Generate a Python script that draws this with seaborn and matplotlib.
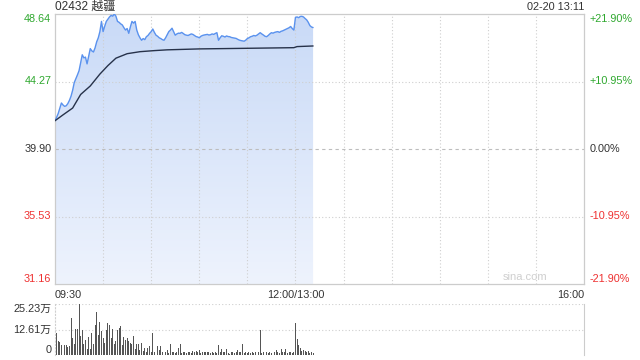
import numpy as np
import pandas as pd
import matplotlib
matplotlib.use("Agg")
import matplotlib.pyplot as plt
import matplotlib.transforms as mtransforms
from matplotlib.colors import LinearSegmentedColormap
import seaborn as sns

# ---------------- data ----------------
title_text = "02432 越疆"
stamp_text = "02-20 13:11"
prev_close = 39.90
price_ticks = [48.64, 44.27, 39.90, 35.53, 31.16]
pct_labels = ["+21.90%", "+10.95%", "0.00%", "-10.95%", "-21.90%"]
vol_ticks = [25.23, 12.61, 0]
vol_labels = ["25.23万", "12.61万", "0"]
x_tick_labels = ["09:30", "12:00/13:00", "16:00"]

price = [
    41.73, 41.95, 42.20, 42.55, 42.88, 42.75, 42.66, 42.70, 42.84, 43.05, 43.32,
    43.70, 44.20, 44.45, 44.70, 44.97, 45.50, 46.00, 45.80, 45.85, 45.41,
    45.90, 46.40, 46.25, 46.18, 46.45, 46.84, 47.10, 47.50, 48.16, 47.50,
    47.85, 48.16, 48.30, 48.45, 48.55, 48.50, 48.64, 48.50, 48.16, 48.10,
    48.00, 47.93, 47.75, 47.60, 47.70, 47.39, 47.80, 48.16, 48.05, 48.16,
    47.60, 47.30, 47.10, 46.94, 47.05, 46.98, 47.17, 47.25, 47.39, 47.50,
    47.67, 47.45, 47.27, 47.20, 47.10, 47.05, 46.98, 46.94, 47.10, 47.30,
    47.50, 47.60, 47.72, 47.50, 47.27, 47.35, 47.40, 47.39, 47.45, 47.38,
    47.30, 47.27, 47.25, 47.30, 47.35, 47.32, 47.25, 47.18, 47.15, 47.10,
    47.20, 47.25, 47.28, 47.30, 47.32, 47.28, 47.30, 47.35, 47.32, 47.38,
    47.43, 46.94, 47.10, 47.23, 47.20, 47.15, 47.22, 47.18, 47.17, 47.12,
    47.10, 47.08, 47.06, 47.00, 46.95, 46.92, 46.90, 46.88, 46.95, 47.05,
    47.10, 47.17, 47.20, 47.25, 47.22, 47.27, 47.35, 47.43, 47.35, 47.28,
    47.20, 47.17, 47.25, 47.35, 47.43, 47.40, 47.45, 47.48, 47.50, 47.45,
    47.52, 47.55, 47.60, 47.65, 47.70, 47.75, 47.83, 47.70, 47.60, 48.42,
    48.45, 48.40, 48.48, 48.49, 48.45, 48.35, 48.26, 48.10, 47.89, 47.80, 47.76,
]

avg_minutes = [0, 5, 11, 16, 22, 28, 33, 38, 45, 53, 62, 70, 90, 120, 149, 151, 161]
avg_values = [41.73, 42.11, 42.55, 43.43, 43.98, 44.75, 45.30, 45.78, 46.07, 46.20,
              46.27, 46.32, 46.38, 46.42, 46.46, 46.53, 46.57]

volume = [
    10.0, 10.7, 7.0, 6.5, 4.8, 4.4, 5.0, 5.0, 3.8, 4.6,
    18.5, 8.6, 5.5, 12.9, 12.9, 25.23, 9.4, 12.4, 5.5, 7.2,
    2.9, 8.9, 3.1, 10.7, 5.2, 14.6, 21.3, 10.0, 16.3, 12.0,
    8.6, 6.0, 12.4, 15.8, 14.6, 8.6, 12.9, 5.2, 6.9, 12.4,
    13.4, 14.1, 4.8, 8.9, 7.2, 8.6, 6.9, 6.0, 5.2, 9.4,
    3.1, 5.5, 5.2, 2.6, 6.0, 2.1, 3.4, 1.7, 3.4, 4.3,
    1.7, 11.1, 1.7, 3.1, 4.3, 2.6, 4.3, 1.4, 3.4, 1.4,
    2.6, 0.9, 5.2, 1.4, 1.7, 0.9, 1.7, 3.4, 5.2, 0.9,
    1.4, 1.7, 0.9, 1.7, 1.4, 0.9, 2.1, 1.4, 2.1, 1.4,
    2.6, 0.9, 1.7, 1.4, 1.7, 1.4, 1.7, 0.9, 1.4, 0.9,
    1.7, 0.9, 4.8, 1.4, 3.1, 1.7, 1.4, 3.1, 0.9, 0.4,
    1.4, 1.7, 0.9, 1.4, 2.6, 1.4, 1.4, 5.2, 0.9, 1.4,
    0.9, 1.4, 0.9, 1.4, 0.9, 1.4, 0.9, 1.4, 12.4, 0.9,
    1.4, 0.9, 1.4, 0.9, 1.7, 0.9, 1.7, 1.4, 2.6, 1.7,
    0.9, 3.1, 1.4, 1.7, 3.1, 0.9, 1.4, 1.7, 0.9, 1.4,
    15.8, 7.7, 4.8, 3.4, 2.1, 2.6, 2.1, 1.4, 2.1, 0.9,
    1.4, 0.9,
]

# trading minute axis: morning 09:30-11:59, afternoon 13:00-13:11 (lunch folded)
times = list(pd.date_range("2024-02-20 09:30", "2024-02-20 11:59", freq="min")) + \
        list(pd.date_range("2024-02-20 13:00", "2024-02-20 13:11", freq="min"))
day_open = pd.Timestamp("2024-02-20 09:30")
minute = [int((t - day_open).total_seconds() // 60) - (60 if t.hour >= 13 else 0) for t in times]
session_len = 330  # 09:30-12:00 + 13:00-16:00

df = pd.DataFrame({"minute": minute, "price": price, "volume": volume})
avg_df = pd.DataFrame({"minute": avg_minutes, "avg": avg_values})

# ---------------- style ----------------
sns.set_style("white")
plt.rcParams["font.family"] = ["Liberation Sans", "Noto Sans CJK SC", "DejaVu Sans"]

GREEN = "#2fa82f"
RED = "#ee3030"
GRAY_T = "#333333"
GRID = "#cfcfcf"
FS = 7.8

fig = plt.figure(figsize=(6.4, 3.6), dpi=100)
W, H = 640.0, 360.0
ax = fig.add_axes([55 / W, 1 - 284 / H, 529 / W, 270 / H])
axv = fig.add_axes([55 / W, 1 - 355 / H, 529 / W, 51 / H])

ylo, yhi = price_ticks[-1], price_ticks[0]

# gradient area under price
poly = ax.fill_between(df["minute"], df["price"], ylo, color="none", linewidth=0)
cmap = LinearSegmentedColormap.from_list("g", ["#eef3fd", "#c9daf7"])
grad = np.linspace(0, 1, 256).reshape(-1, 1)
img = ax.imshow(grad, extent=[df["minute"].min(), df["minute"].max(), ylo, yhi],
                origin="lower", cmap=cmap, aspect="auto", zorder=1)
img.set_clip_path(poly.get_paths()[0], transform=ax.transData)

sns.lineplot(data=df, x="minute", y="price", ax=ax, color="#5a92ee", linewidth=1.0, zorder=3)
sns.lineplot(data=avg_df, x="minute", y="avg", ax=ax, color="#27324a", linewidth=1.0, zorder=3)

ax.set_xlim(0, session_len)
ax.set_ylim(ylo, yhi)
ax.set_xlabel("")
ax.set_ylabel("")
ax.set_yticks([])

# grid lines (drawn over the area fill, under the lines)
for v in range(30, session_len, 30):
    ax.axvline(v, color=GRID, linestyle=(0, (1, 2)), linewidth=0.8, zorder=2)
for v in price_ticks[1:-1]:
    if abs(v - prev_close) < 1e-9:
        ax.axhline(v, color="#bdbdbd", linestyle=(0, (3, 3)), linewidth=0.8, zorder=2)
    else:
        ax.axhline(v, color=GRID, linestyle=(0, (1, 2)), linewidth=0.8, zorder=2)

for s in ax.spines.values():
    s.set_visible(True)
    s.set_color("#cccccc")
    s.set_linewidth(0.9)

# x tick labels
ax.set_xticks([0, 150, session_len])
ax.set_xticklabels(x_tick_labels, fontsize=FS, color=GRAY_T)
ax.tick_params(axis="x", length=0, pad=4)
tl = ax.get_xticklabels()
tl[0].set_ha("left")
tl[-1].set_ha("right")

# y labels (price left, percent right)
bt = mtransforms.blended_transform_factory(ax.transAxes, ax.transData)
for i, (v, p) in enumerate(zip(price_ticks, pct_labels)):
    col = GREEN if v > prev_close + 1e-9 else (RED if v < prev_close - 1e-9 else GRAY_T)
    va = "top" if i == 0 else ("bottom" if i == len(price_ticks) - 1 else "center")
    ax.text(-0.007, v, f"{v:.2f}", transform=bt, ha="right", va=va, fontsize=FS, color=col)
    ax.text(1.011, v, p, transform=bt, ha="left", va=va, fontsize=FS, color=col)

ax.text(0.0, 1.026, title_text, transform=ax.transAxes, ha="left", va="center",
        fontsize=8.6, color=GRAY_T)
ax.text(1.0, 1.026, stamp_text, transform=ax.transAxes, ha="right", va="center",
        fontsize=FS, color=GRAY_T)
ax.text(0.93, 0.008, "sina.com", transform=ax.transAxes, ha="right", va="bottom",
        fontsize=8, color="#cfcfcf")

# volume panel
sns.barplot(data=df, x="minute", y="volume", ax=axv, native_scale=True, color="#555555",
            width=0.6, errorbar=None, saturation=1, linewidth=0)
axv.set_xlim(0, session_len)
axv.set_ylim(0, vol_ticks[0])
axv.set_xticks([])
axv.set_yticks([])
axv.set_xlabel("")
axv.set_ylabel("")
for v in vol_ticks[:-1]:
    axv.axhline(v, color=GRID, linestyle=(0, (1, 2)), linewidth=0.8, zorder=0.5)
axv.spines["top"].set_visible(False)
axv.spines["bottom"].set_visible(False)
axv.spines["left"].set_visible(True)
axv.spines["left"].set_color(GRID)
axv.spines["left"].set_linestyle((0, (1, 2)))
axv.spines["right"].set_visible(True)
axv.spines["right"].set_color("#cccccc")
btv = mtransforms.blended_transform_factory(axv.transAxes, axv.transData)
for i, (v, lab) in enumerate(zip(vol_ticks, vol_labels)):
    va = "top" if i == 0 else ("bottom" if i == len(vol_ticks) - 1 else "center")
    axv.text(-0.007, v, lab, transform=btv, ha="right", va=va, fontsize=FS, color=GRAY_T)

fig.savefig("out.png", dpi=100)
